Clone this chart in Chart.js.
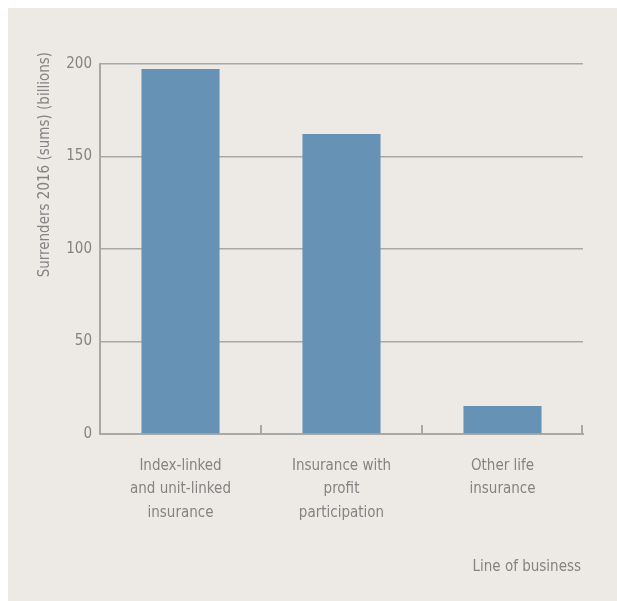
<!DOCTYPE html>
<html>
<head>
<meta charset="utf-8">
<script src="https://cdn.jsdelivr.net/npm/chart.js@4/dist/chart.umd.min.js"></script>
<style>
  html, body { margin: 0; padding: 0; background: #ffffff; }
  canvas { display: block; }
</style>
</head>
<body>
<canvas id="chart" width="617" height="601"></canvas>
<script>
// Surrenders in 2016 by line of business (billions)
const categories = [
  ['Index-linked', 'and unit-linked', 'insurance'],
  ['Insurance with', 'profit', 'participation'],
  ['Other life', 'insurance']
];
const surrenders = [197.3, 162.2, 15.1];
const yTicks = [0, 50, 100, 150, 200];
const yTitle = 'Surrenders 2016 (sums) (billions)';
const xTitle = 'Line of business';

const FONT = '"DejaVu Sans Condensed", "Liberation Sans Narrow", sans-serif';
const SIZE = 15;
const TEXT = '#838383';
const RULE = '#a9a8a6';
const PANEL = '#edeae5';

// Panel background, upward boundary ticks and axis titles
const decor = {
  id: 'decor',
  beforeDraw(chart) {
    const { ctx, width, height } = chart;
    ctx.save();
    ctx.fillStyle = '#ffffff';
    ctx.fillRect(0, 0, width, height);
    ctx.fillStyle = PANEL;
    ctx.fillRect(8, 8, width - 8, height - 8);
    ctx.restore();
  },
  afterDraw(chart) {
    const { ctx, chartArea } = chart;
    const x = chart.scales.x;
    ctx.save();
    ctx.strokeStyle = RULE;
    ctx.lineWidth = 2;
    for (let i = 1; i <= categories.length; i++) {
      const px = Math.round(x.getPixelForValue(i - 0.5)) - (i === categories.length ? 1 : 0);
      ctx.beginPath();
      ctx.moveTo(px, chartArea.bottom);
      ctx.lineTo(px, chartArea.bottom - 9);
      ctx.stroke();
    }
    ctx.fillStyle = TEXT;
    ctx.font = SIZE + 'px ' + FONT;
    // vertical axis title
    ctx.save();
    ctx.translate(45, 52);
    ctx.rotate(-Math.PI / 2);
    ctx.textAlign = 'right';
    ctx.textBaseline = 'middle';
    ctx.fillText(yTitle, 0, 0);
    ctx.restore();
    // horizontal axis title
    ctx.textAlign = 'right';
    ctx.textBaseline = 'middle';
    ctx.fillText(xTitle, chartArea.right - 2, 567);
    ctx.restore();
  }
};

new Chart(document.getElementById('chart'), {
  type: 'bar',
  data: {
    labels: categories,
    datasets: [{
      data: surrenders,
      backgroundColor: '#6592b5',
      borderWidth: 0,
      barPercentage: 0.485,
      categoryPercentage: 1
    }]
  },
  options: {
    responsive: false,
    animation: false,
    devicePixelRatio: 1,
    layout: { padding: { top: 64, right: 34, left: 0, bottom: 0 } },
    plugins: { legend: { display: false }, tooltip: { enabled: false } },
    scales: {
      x: {
        afterFit(scale) { scale.height = 167; },
        grid: { display: false, drawTicks: false },
        border: { display: true, color: RULE, width: 2 },
        ticks: {
          color: TEXT,
          padding: 20,
          maxRotation: 0,
          autoSkip: false,
          font: { family: FONT, size: SIZE, lineHeight: 1.57 }
        }
      },
      y: {
        min: 0,
        max: 200,
        afterFit(scale) { scale.width = 100; },
        afterBuildTicks(scale) { scale.ticks = yTicks.map(v => ({ value: v })); },
        grid: { color: RULE, lineWidth: 1.5, drawTicks: false },
        border: { display: true, color: RULE, width: 2 },
        ticks: {
          color: TEXT,
          padding: 8,
          font: { family: FONT, size: SIZE }
        }
      }
    }
  },
  plugins: [decor]
});
</script>
</body>
</html>
